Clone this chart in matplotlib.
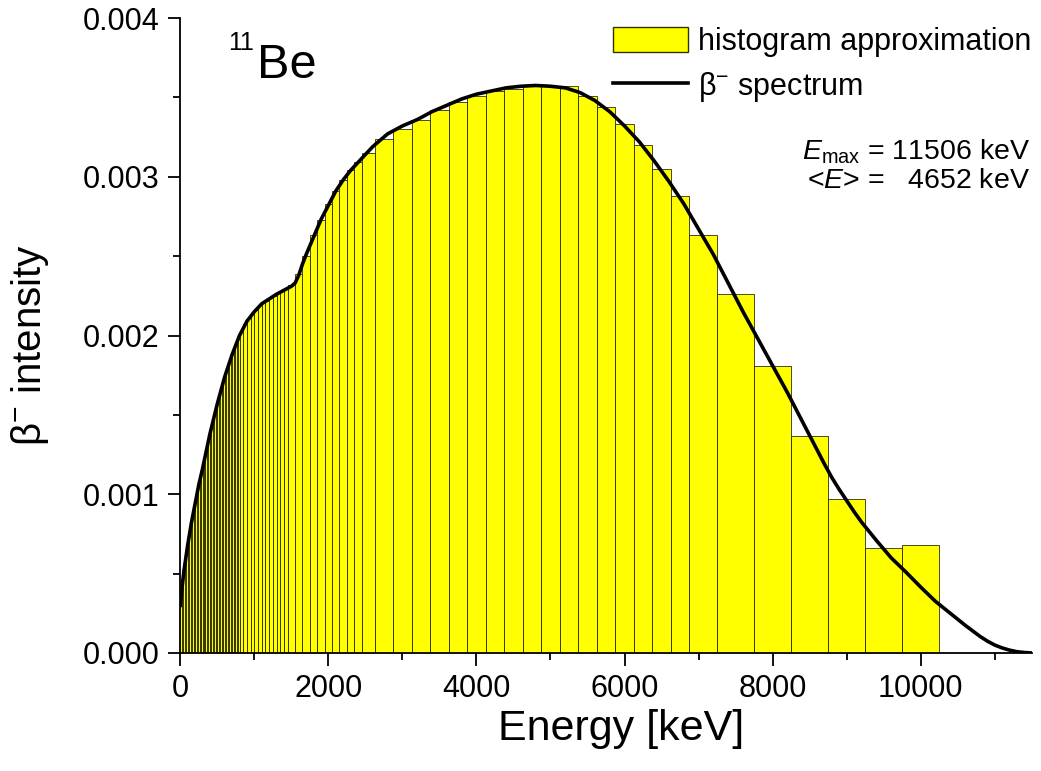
import matplotlib
matplotlib.use("Agg")
import matplotlib.pyplot as plt
from matplotlib.patches import Patch
from matplotlib.lines import Line2D
from matplotlib.ticker import MultipleLocator, FormatStrFormatter
import numpy as np

# histogram bin edges [keV]
bin_edges = [
    0, 20, 40, 60, 80, 100, 120, 140, 160, 180, 200, 220, 240, 260, 280, 300,
    320, 340, 360, 380, 400, 420, 440, 460, 480, 500, 520, 540, 560, 580, 600,
    620, 640, 660, 680, 700, 720, 740, 760, 780, 800,
    850, 900, 950, 1000, 1050, 1100, 1150, 1200, 1250, 1300, 1350, 1400, 1450,
    1550, 1650, 1750, 1850, 1950, 2050, 2150, 2250, 2350, 2450,
    2625,
    2875, 3125, 3375, 3625, 3875, 4125, 4375, 4625, 4875, 5125, 5375, 5625,
    5875, 6125, 6375, 6625, 6875,
    7250,
    7750, 8250, 8750, 9250, 9750, 10250,
]

# histogram heights (x 1e-3)
bin_heights = [
    0.35, 0.44, 0.52, 0.58, 0.65, 0.71, 0.76, 0.82, 0.87, 0.92, 0.96, 1.01,
    1.06, 1.10, 1.14, 1.18, 1.23, 1.27, 1.32, 1.36, 1.40, 1.44, 1.48, 1.51,
    1.55, 1.59, 1.62, 1.66, 1.69, 1.72, 1.75, 1.78, 1.81, 1.84, 1.87, 1.89,
    1.92, 1.94, 1.96, 1.99,
    2.02, 2.07, 2.11, 2.14, 2.16, 2.19, 2.21, 2.22, 2.24, 2.25, 2.27, 2.28, 2.29,
    2.32, 2.39, 2.50, 2.63, 2.73, 2.83, 2.91, 2.98, 3.04, 3.09,
    3.15,
    3.24, 3.30, 3.36, 3.42, 3.47, 3.51, 3.54, 3.55, 3.57, 3.57, 3.57, 3.51,
    3.44, 3.33, 3.20, 3.05, 2.88,
    2.63,
    2.26, 1.81, 1.37, 0.97, 0.66, 0.68,
]

# beta- spectrum curve (intensity x 1e-3)
spec_energy = [
    0, 25, 50, 100, 150, 200, 250, 300, 400, 500, 600, 700, 800, 900, 1000,
    1100, 1200, 1300, 1400, 1500, 1550, 1600, 1650, 1700, 1800, 1900, 2000,
    2100, 2200, 2300, 2400, 2500, 2600, 2800, 3000, 3200, 3400, 3600, 3800,
    4000, 4200, 4400, 4600, 4800, 5000, 5200, 5400, 5600, 5800, 6000, 6200,
    6400, 6600, 6800, 7000, 7200, 7400, 7600, 7800, 8000, 8200, 8400, 8600,
    8700, 8800, 8900, 9000, 9100, 9200, 9400, 9600, 9800, 10000, 10200, 10400,
    10600, 10800, 10900, 11000, 11100, 11200, 11300, 11400, 11506,
]
spec_intensity = [
    0.30, 0.42, 0.52, 0.68, 0.82, 0.94, 1.06, 1.16, 1.38, 1.57, 1.74, 1.88,
    2.00, 2.09, 2.15, 2.20, 2.23, 2.26, 2.285, 2.31, 2.33, 2.38, 2.45, 2.51,
    2.62, 2.73, 2.82, 2.91, 2.98, 3.04, 3.09, 3.14, 3.19, 3.27, 3.32, 3.36,
    3.41, 3.45, 3.49, 3.52, 3.54, 3.56, 3.57, 3.575, 3.57, 3.56, 3.53, 3.48,
    3.41, 3.32, 3.22, 3.10, 2.97, 2.83, 2.67, 2.51, 2.33, 2.15, 1.98, 1.81,
    1.64, 1.46, 1.28, 1.19, 1.105, 1.03, 0.96, 0.89, 0.825, 0.71, 0.60, 0.51,
    0.415, 0.325, 0.25, 0.175, 0.105, 0.075, 0.05, 0.032, 0.018, 0.008, 0.003,
    0.0,
]

plt.rcParams['font.family'] = ['Liberation Sans', 'DejaVu Sans']
plt.rcParams['mathtext.fontset'] = 'custom'
plt.rcParams['mathtext.rm'] = 'Liberation Sans'
plt.rcParams['mathtext.it'] = 'Liberation Sans:italic'
plt.rcParams['mathtext.bf'] = 'Liberation Sans:bold'

W, H = 1041, 771
fig = plt.figure(figsize=(W / 100, H / 100), dpi=100)
x0, x1, y0, y1 = 180.3, 1032.2, 653, 18
ax = fig.add_axes([x0 / W, 1 - y0 / H, (x1 - x0) / W, (y0 - y1) / H])

edges = np.array(bin_edges, dtype=float)
heights = np.array(bin_heights) * 1e-3
ax.bar(edges[:-1], heights, width=np.diff(edges), align='edge',
       color='#ffff00', edgecolor='#1a1a00', linewidth=0.55, zorder=2)
ax.plot(spec_energy, np.array(spec_intensity) * 1e-3, color='black',
        lw=2.6, zorder=3, solid_joinstyle='round')

ax.set_xlim(0, 11506)
ax.set_ylim(0, 0.004)
for s in ['top', 'right']:
    ax.spines[s].set_visible(False)
for s in ['left', 'bottom']:
    ax.spines[s].set_linewidth(1.3)

ax.xaxis.set_major_locator(MultipleLocator(2000))
ax.xaxis.set_minor_locator(MultipleLocator(1000))
ax.yaxis.set_major_locator(MultipleLocator(0.001))
ax.yaxis.set_minor_locator(MultipleLocator(0.0005))
ax.yaxis.set_major_formatter(FormatStrFormatter('%.3f'))
ax.tick_params(which='major', direction='out', length=9, width=1.3,
               labelsize=22, pad=6)
ax.tick_params(which='minor', direction='out', length=5, width=1.3)

ax.set_xlabel('Energy [keV]', fontsize=31)
ax.xaxis.set_label_coords(0.518, -0.088)
ax.set_ylabel(r'$\mathrm{\beta}^{-}$ intensity', fontsize=29)
ax.yaxis.set_label_coords(-0.152, 0.485)

fig.text(228 / W, 1 - 50 / H, '11', fontsize=18, ha='left', va='baseline')
fig.text(257 / W, 1 - 78 / H, 'Be', fontsize=35, ha='left', va='baseline')

fig.text(1030 / W, 1 - 159 / H, r'$E_{\mathrm{max}}$ = 11506 keV',
         fontsize=20.5, ha='right', va='baseline')
fig.text(1030 / W, 1 - 188 / H, r'<$E$> =   4652 keV',
         fontsize=20.5, ha='right', va='baseline')

handles = [
    Patch(facecolor='#ffff00', edgecolor='#333300', linewidth=1.0),
    Line2D([], [], color='black', lw=2.6),
]
labels = ['histogram approximation', r'$\mathrm{\beta}^{-}$ spectrum']
ax.legend(handles, labels, loc='upper right',
          bbox_to_anchor=(1031 / W, 1 - 27 / H), bbox_transform=fig.transFigure,
          frameon=False, fontsize=22, handlelength=2.45, handleheight=0.85,
          handletextpad=0.33, labelspacing=0.42, borderpad=0, borderaxespad=0)

fig.savefig('out.png', dpi=100)
